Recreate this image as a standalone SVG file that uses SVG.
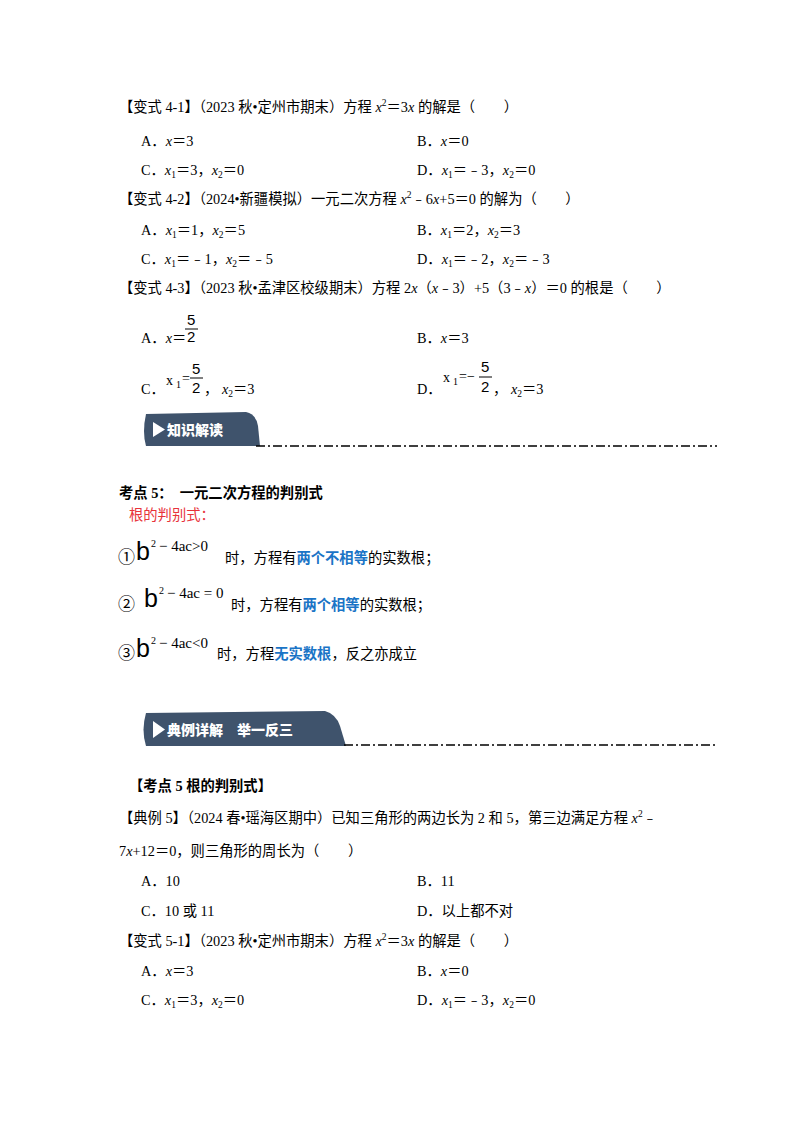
<svg xmlns="http://www.w3.org/2000/svg" width="800" height="1132" viewBox="0 0 800 1132">
<style>
text{font-family:"Liberation Serif","Noto Sans CJK SC",serif;font-size:14.3px;fill:#000}
.b{font-weight:bold}
.i{font-style:italic}
.blue{fill:#1a74c6;font-weight:bold}
.red{fill:#e8333a}
.sub{font-size:9.5px}
.sup{font-size:9.5px}
.ban{fill:#3f536c}
.bt{fill:#fff;font-family:"Noto Sans CJK SC",sans-serif;font-weight:900;font-size:14px}
.dl{stroke:#000;stroke-width:1.6;stroke-dasharray:9 3 2 3;fill:none}
.fr{font-family:"Liberation Sans",sans-serif;font-size:15px}
.bb{font-family:"Liberation Sans",sans-serif;font-size:25px}
.s2{font-family:"Liberation Serif",serif;font-size:10px}
.ex{font-family:"Liberation Serif",serif;font-size:15px}
.xm{font-family:"Liberation Serif",serif;font-size:14px}
.xs{font-size:10px}
</style>
<rect width="800" height="1132" fill="#fff"/>
<text x="119" y="112">【变式 4-1】（2023 秋•定州市期末）方程 <tspan class="i">x</tspan><tspan class="sup" dy="-6">2</tspan><tspan dy="6">＝3</tspan><tspan class="i">x</tspan> 的解是（　　）</text>
<text x="141" y="146">A．<tspan class="i">x</tspan>＝3</text>
<text x="417" y="146">B．<tspan class="i">x</tspan>＝0</text>
<text x="141" y="175">C．<tspan class="i">x</tspan><tspan class="sub" dy="3">1</tspan><tspan dy="-3">＝3，</tspan><tspan class="i">x</tspan><tspan class="sub" dy="3">2</tspan><tspan dy="-3">＝0</tspan></text>
<text x="417" y="175">D．<tspan class="i">x</tspan><tspan class="sub" dy="3">1</tspan><tspan dy="-3">＝﹣3，</tspan><tspan class="i">x</tspan><tspan class="sub" dy="3">2</tspan><tspan dy="-3">＝0</tspan></text>
<text x="119" y="204">【变式 4-2】（2024•新疆模拟）一元二次方程 <tspan class="i">x</tspan><tspan class="sup" dy="-6">2</tspan><tspan dy="6">﹣6</tspan><tspan class="i">x</tspan>+5＝0 的解为（　　）</text>
<text x="141" y="235">A．<tspan class="i">x</tspan><tspan class="sub" dy="3">1</tspan><tspan dy="-3">＝1，</tspan><tspan class="i">x</tspan><tspan class="sub" dy="3">2</tspan><tspan dy="-3">＝5</tspan></text>
<text x="417" y="235">B．<tspan class="i">x</tspan><tspan class="sub" dy="3">1</tspan><tspan dy="-3">＝2，</tspan><tspan class="i">x</tspan><tspan class="sub" dy="3">2</tspan><tspan dy="-3">＝3</tspan></text>
<text x="141" y="264">C．<tspan class="i">x</tspan><tspan class="sub" dy="3">1</tspan><tspan dy="-3">＝﹣1，</tspan><tspan class="i">x</tspan><tspan class="sub" dy="3">2</tspan><tspan dy="-3">＝﹣5</tspan></text>
<text x="417" y="264">D．<tspan class="i">x</tspan><tspan class="sub" dy="3">1</tspan><tspan dy="-3">＝﹣2，</tspan><tspan class="i">x</tspan><tspan class="sub" dy="3">2</tspan><tspan dy="-3">＝﹣3</tspan></text>
<text x="119" y="293">【变式 4-3】（2023 秋•孟津区校级期末）方程 2<tspan class="i">x</tspan>（<tspan class="i">x</tspan>﹣3）+5（3﹣<tspan class="i">x</tspan>）＝0 的根是（　　）</text>
<text x="141" y="343">A．<tspan class="i">x</tspan>＝</text>
<text x="187" y="325" class="fr">5</text>
<line x1="185" y1="329" x2="198" y2="329" stroke="#000" stroke-width="1"/>
<text x="187" y="342" class="fr">2</text>
<text x="417" y="343">B．<tspan class="i">x</tspan>＝3</text>
<text x="141" y="394">C．</text>
<text x="166" y="385" class="xm">x<tspan class="xs" dx="3" dy="3">1</tspan></text>
<text x="182" y="383" class="xm">=</text>
<text x="192" y="374" class="fr">5</text>
<line x1="190" y1="378" x2="203" y2="378" stroke="#000" stroke-width="1"/>
<text x="192" y="393" class="fr">2</text>
<text x="204" y="394">， <tspan class="i">x</tspan><tspan class="sub" dy="3">2</tspan><tspan dy="-3">＝3</tspan></text>
<text x="417" y="394">D．</text>
<text x="443" y="382" class="xm">x<tspan class="xs" dx="3" dy="3">1</tspan></text>
<text x="459" y="381" class="xm">=−</text>
<text x="481" y="372" class="fr">5</text>
<line x1="479" y1="377" x2="492" y2="377" stroke="#000" stroke-width="1"/>
<text x="481" y="392" class="fr">2</text>
<text x="493" y="394">， <tspan class="i">x</tspan><tspan class="sub" dy="3">2</tspan><tspan dy="-3">＝3</tspan></text>

<g id="banner1">
<path class="ban" d="M146,414 L246,412 Q256,414 258,426 L260,446 L146,446 Q142,432 146,414 Z"/>
<path d="M153,422 L153,437 L165,429.5 Z" fill="#fff"/>
<text class="bt" x="167" y="435">知识解读</text>
<path class="dl" d="M256,446 L717,446"/>
</g>

<text x="119" y="498" class="b">考点 5：　一元二次方程的判别式</text>
<text x="129" y="520" class="red">根的判别式：</text>

<text x="118" y="563" style="font-size:17px">①</text>
<text x="136" y="560" class="bb">b</text>
<text x="151" y="547" class="s2">2</text>
<text x="159" y="551" class="ex">− 4ac&gt;0</text>
<text x="225" y="563">时，方程有<tspan class="blue">两个不相等</tspan>的实数根；</text>

<text x="118" y="610" style="font-size:17px">②</text>
<text x="144" y="607" class="bb">b</text>
<text x="159" y="594" class="s2">2</text>
<text x="167" y="598" class="ex">− 4ac = 0</text>
<text x="231" y="610">时，方程有<tspan class="blue">两个相等</tspan>的实数根；</text>

<text x="118" y="659" style="font-size:17px">③</text>
<text x="136" y="657" class="bb">b</text>
<text x="151" y="644" class="s2">2</text>
<text x="159" y="648" class="ex">− 4ac&lt;0</text>
<text x="217" y="659">时，方程<tspan class="blue">无实数根</tspan>，反之亦成立</text>

<g id="banner2">
<path class="ban" d="M146,713 L325,711 Q336,714 340,726 L346,746 L146,746 Q141,730 146,713 Z"/>
<path d="M153,721 L153,738 L165,729.5 Z" fill="#fff"/>
<text class="bt" x="167" y="735">典例详解　举一反三</text>
<path class="dl" d="M344,745 L717,745"/>
</g>

<text x="129" y="791" class="b">【考点 5  根的判别式】</text>
<text x="119" y="823">【典例 5】（2024 春•瑶海区期中）已知三角形的两边长为 2 和 5，第三边满足方程 <tspan class="i">x</tspan><tspan class="sup" dy="-6">2</tspan><tspan dy="6">﹣</tspan></text>
<text x="119" y="856">7<tspan class="i">x</tspan>+12＝0，则三角形的周长为（　　）</text>
<text x="141" y="886">A．10</text>
<text x="417" y="886">B．11</text>
<text x="141" y="916">C．10 或 11</text>
<text x="417" y="916">D．以上都不对</text>
<text x="119" y="946">【变式 5-1】（2023 秋•定州市期末）方程 <tspan class="i">x</tspan><tspan class="sup" dy="-6">2</tspan><tspan dy="6">＝3</tspan><tspan class="i">x</tspan> 的解是（　　）</text>
<text x="141" y="976">A．<tspan class="i">x</tspan>＝3</text>
<text x="417" y="976">B．<tspan class="i">x</tspan>＝0</text>
<text x="141" y="1005">C．<tspan class="i">x</tspan><tspan class="sub" dy="3">1</tspan><tspan dy="-3">＝3，</tspan><tspan class="i">x</tspan><tspan class="sub" dy="3">2</tspan><tspan dy="-3">＝0</tspan></text>
<text x="417" y="1005">D．<tspan class="i">x</tspan><tspan class="sub" dy="3">1</tspan><tspan dy="-3">＝﹣3，</tspan><tspan class="i">x</tspan><tspan class="sub" dy="3">2</tspan><tspan dy="-3">＝0</tspan></text>
</svg>
